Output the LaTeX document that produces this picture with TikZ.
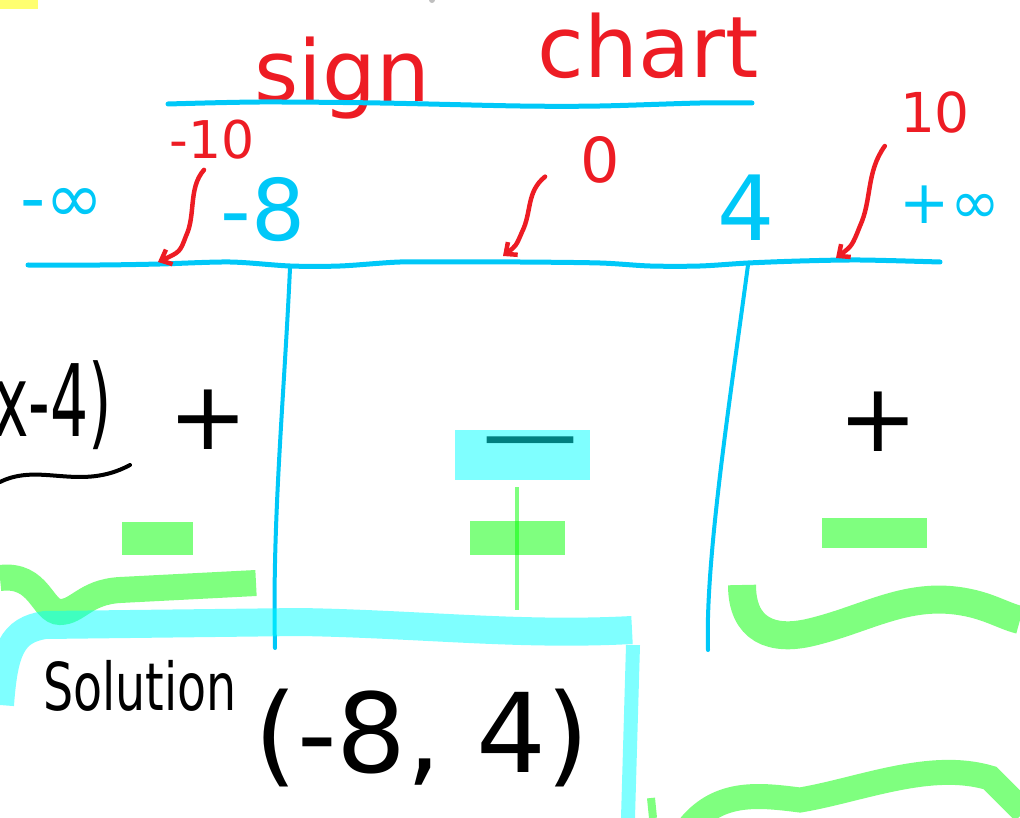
\documentclass[tikz,border=0pt]{standalone}
\usepackage{fontspec}
\setmainfont{DejaVu Sans}
\definecolor{penred}{HTML}{ED1C24}
\definecolor{pencyan}{HTML}{00C8F8}
\definecolor{hlyellow}{HTML}{FFFF70}
\definecolor{hlcyan}{RGB}{0,255,255}
\definecolor{hlgreen}{RGB}{0,255,0}
\usetikzlibrary{arrows.meta}

\begin{document}
\begin{tikzpicture}[x=1pt,y=-1pt,>={Straight Barb[length=9pt,width=16pt]},
  every node/.style={inner sep=0pt},
  redpen/.style={text=penred,font=\fontsize{#1}{#1}\selectfont},
  cyanpen/.style={text=pencyan,font=\fontsize{#1}{#1}\selectfont},
  blackpen/.style={text=black,font=\fontsize{#1}{#1}\selectfont},
  redarrow/.style={->,draw=penred,line width=4.5pt,line cap=round,line join=round},
  cyanline/.style={draw=pencyan,line width=5pt,line cap=round},
  greenhl/.style={hlgreen,opacity=0.5},
  cyanhl/.style={hlcyan,opacity=0.5}]
\useasboundingbox (0,0) rectangle (1020,818);
% stray marks at the top
\fill[hlyellow] (0,0) rectangle (38,9);
\fill[gray!50] (432,0) circle (3);
% green highlighter strokes
\draw[greenhl,line width=26pt] (0,578) .. controls (40,573) and (42,612) .. (60,612) .. controls (78,612) and (85,592) .. (120,590) -- (256,583);
\draw[greenhl,line width=28pt] (742,585) .. controls (742,630) and (772,642) .. (812,632) .. controls (862,620) and (900,596) .. (950,600) .. controls (985,603) and (1000,615) .. (1020,620);
\draw[greenhl,line width=25pt] (690,826) .. controls (720,790) and (760,795) .. (800,800) .. controls (860,790) and (930,760) .. (990,778) -- (1024,812);
\draw[greenhl,line width=8pt] (651,798) -- (653,818);
\fill[greenhl] (122,522) rectangle (193,555);
\fill[greenhl] (470,521) rectangle (565,555);
\fill[greenhl] (822,518) rectangle (927,548);
\draw[greenhl,line width=3.5pt] (517,487) -- (517,610);
% title
\node[redpen=85] (sign) at (342,78) {sign};
\node[redpen=85] (chart) at (648,46) {chart};
\draw[cyanline] plot[smooth] coordinates {(168,104) (260,102) (380,103) (520,106) (600,106) (700,103) (752,103)};
% interval ends
\node[redpen=52] (lo) at (212,140) {-10};
\node[redpen=62] (mid) at (600,160) {0};
\node[redpen=55] (hi) at (935,112) {10};
\node[cyanpen=70] (ninf) at (62,205) {-∞};
\node[cyanpen=85] (m8) at (263,210) {-8};
\node[cyanpen=90] (four) at (746,208) {4};
\node[cyanpen=60] (pinf) at (950,205) {+∞};
% number line
\draw[cyanline] plot[smooth] coordinates {(28,265) (100,265) (160,264) (230,262) (290,266) (340,266) (400,262) (460,262) (520,262) (600,263) (650,266) (700,266) (748,263) (800,261) (860,260) (940,262)};
\coordinate (t1) at (290,268);
\coordinate (t2) at (748,265);
\coordinate (b1) at (275,648);
\coordinate (b2) at (708,650);
\draw[cyanline,line width=4pt] (t1) .. controls (284,400) and (272,520) .. (b1);
\draw[cyanline,line width=4pt] (t2) .. controls (730,400) and (705,560) .. (b2);
% test points
\coordinate (a1) at (158,262);
\coordinate (a2) at (503,256);
\coordinate (a3) at (836,258);
\draw[redarrow] ([shift={(-8,10)}]lo.south) .. controls (188,188) and (196,215) .. (186,236) .. controls (180,252) .. (a1);
\draw[redarrow] ([shift={(-35,-7)}]mid.south west) .. controls (526,192) and (532,212) .. (522,232) .. controls (516,246) .. (a2);
\draw[redarrow] ([shift={(-15,13)}]hi.south west) .. controls (866,172) and (872,200) .. (860,226) .. controls (852,246) .. (a3);
% signs of (x-4)
\node[blackpen=100,anchor=east] (fx) at (112,405) {\scalebox{0.6}[1]{(x-4)}};
\draw[line width=4pt,line cap=round] (0,482) .. controls (40,462) and (80,492) .. (130,465);
\node[blackpen=95] (p1) at (208,420) {+};
\node[blackpen=96] (n1) at (530,452) {—};
\fill[cyanhl] (455,430) rectangle (590,480);
\node[blackpen=95] (p2) at (878,422) {+};
% solution box
\draw[cyanhl,line width=28pt] (0,705) .. controls (4,650) and (12,630) .. (45,625) -- (300,622) .. controls (420,624) and (520,636) .. (632,630);
\draw[cyanhl,line width=14pt] (633,645) -- (628,818);
\node[blackpen=66] (sol) at (140,686) {\scalebox{0.72}[1]{Solution}};
\node[blackpen=110] (ans) at (422,738) {(-8, 4)};
\end{tikzpicture}
\end{document}
